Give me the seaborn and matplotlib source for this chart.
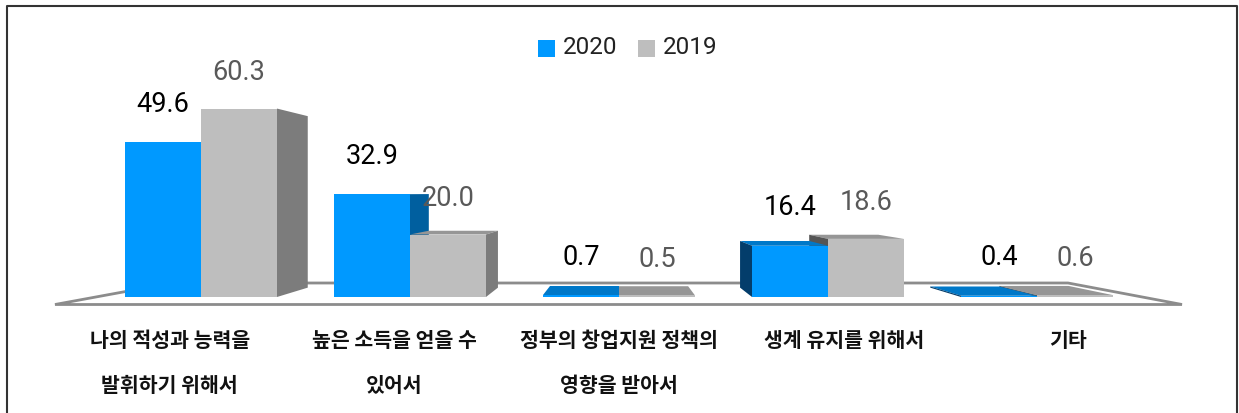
import pandas as pd
import seaborn as sns
import matplotlib.pyplot as plt
from matplotlib.lines import Line2D
from matplotlib.patches import Polygon

# --- data ---
categories = ['나의 적성과 능력을\n발휘하기 위해서', '높은 소득을 얻을 수\n있어서',
              '정부의 창업지원 정책의\n영향을 받아서', '생계 유지를 위해서', '기타']
values_2020 = [49.6, 32.9, 0.7, 16.4, 0.4]
values_2019 = [60.3, 20.0, 0.5, 18.6, 0.6]
years = ['2020', '2019']

df = pd.DataFrame({
    'category': categories * 2,
    'year': ['2020'] * 5 + ['2019'] * 5,
    'value': values_2020 + values_2019,
})

sns.set_theme(style='white')
plt.rcParams['font.family'] = ['Roboto', 'Noto Sans CJK KR', 'DejaVu Sans']

fig = plt.figure(figsize=(12.39, 4.13), dpi=100)
ax = fig.add_axes([0, 116 / 413, 1, 297 / 413])

front = {'2020': '#0099ff', '2019': '#bebebe'}
top_col = {'2020': '#0078c8', '2019': '#969696'}
side_right = {'2020': '#005f9f', '2019': '#7c7c7c'}
side_left = {'2020': '#033d6b', '2019': '#555555'}

sns.barplot(data=df, x='category', y='value', hue='year', hue_order=years, order=categories,
            palette=front, saturation=1, width=0.727, gap=0, errorbar=None, ax=ax, zorder=5,
            linewidth=0)

ax.set_xlim(-201 / 209, (1239 - 201) / 209)
ax.set_ylim(0, 297 / 3.125)

# fake 3D: back face shrinks toward a vanishing point
vp_x, vp_y, depth = 2.0, 33.3, 0.91

def back(x, y):
    return (vp_x + (x - vp_x) * depth, vp_y + (y - vp_y) * depth)

bars = []
for cont, year in zip(ax.containers, years):
    for p in cont.patches:
        bars.append((p, year))
bars.sort(key=lambda b: -abs(b[0].get_x() + b[0].get_width() / 2 - vp_x))

z = 2.0
for p, year in bars:
    x0, x1, h = p.get_x(), p.get_x() + p.get_width(), p.get_height()
    faces = []
    if h <= vp_y:
        faces.append(([(x0, h), (x1, h), back(x1, h), back(x0, h)], top_col[year]))
    if x1 < vp_x:
        faces.append(([(x1, 0), (x1, h), back(x1, h), back(x1, 0)], side_right[year]))
    if x0 > vp_x:
        faces.append(([(x0, 0), (x0, h), back(x0, h), back(x0, 0)], side_left[year]))
    for pts, col in faces:
        z += 0.01
        ax.add_patch(Polygon(pts, closed=True, facecolor=col, edgecolor='none', zorder=z, clip_on=False))

# floor plate
floor_px = [(55, 304.5), (172, 283), (1068, 283), (1182, 304.5)]
floor = [((px - 201) / 209, (297 - py) / 3.125) for px, py in floor_px]
ax.add_patch(Polygon(floor, closed=True, facecolor='white', edgecolor='#8c8c8c', linewidth=2,
                     zorder=1, clip_on=False))

# value labels
label_cols = {'2020': '#000000', '2019': '#595959'}
label_pad = {'2020': 17.5, '2019': 16.5}
for cont, year in zip(ax.containers, years):
    ax.bar_label(cont, fmt='%.1f', padding=label_pad[year], fontsize=19.5, color=label_cols[year], zorder=8)

ax.set_xlabel('')
ax.set_ylabel('')
ax.set_yticks([])
# category labels sit further apart than the bars
ax.set_xticks([vp_x + (i - vp_x) * 1.075 for i in range(len(categories))], categories)
ax.tick_params(axis='x', length=0, pad=24)
for lab in ax.get_xticklabels():
    lab.set_fontsize(14.75)
    lab.set_fontweight('bold')
    lab.set_linespacing(2.4)
    lab.set_verticalalignment('top')
    lab.set_color('#111111')
    lab.set_family(['Noto Sans CJK KR', 'DejaVu Sans'])
sns.despine(ax=ax, left=True, bottom=True, top=True, right=True)

sns.move_legend(ax, loc='center', bbox_to_anchor=(627.5 / 1239, 1 - 47 / 297), ncol=2, frameon=False,
                title=None, fontsize=17.5, handlelength=0.72, handleheight=0.72,
                handletextpad=0.3, columnspacing=0.85)
for t in ax.get_legend().get_texts():
    t.set_color('#222222')
for h in ax.get_legend().get_patches():
    h.set_y(h.get_y() - 2.5)

# outer frame, open at the bottom
frame_x = [6.5 / 1239, 6.5 / 1239, 1236.5 / 1239, 1236.5 / 1239]
frame_y = [0, 1 - 6 / 413, 1 - 6 / 413, 0]
fig.add_artist(Line2D(frame_x, frame_y, color='#333333', linewidth=1.5, transform=fig.transFigure))

fig.savefig('out.png', dpi=100)
